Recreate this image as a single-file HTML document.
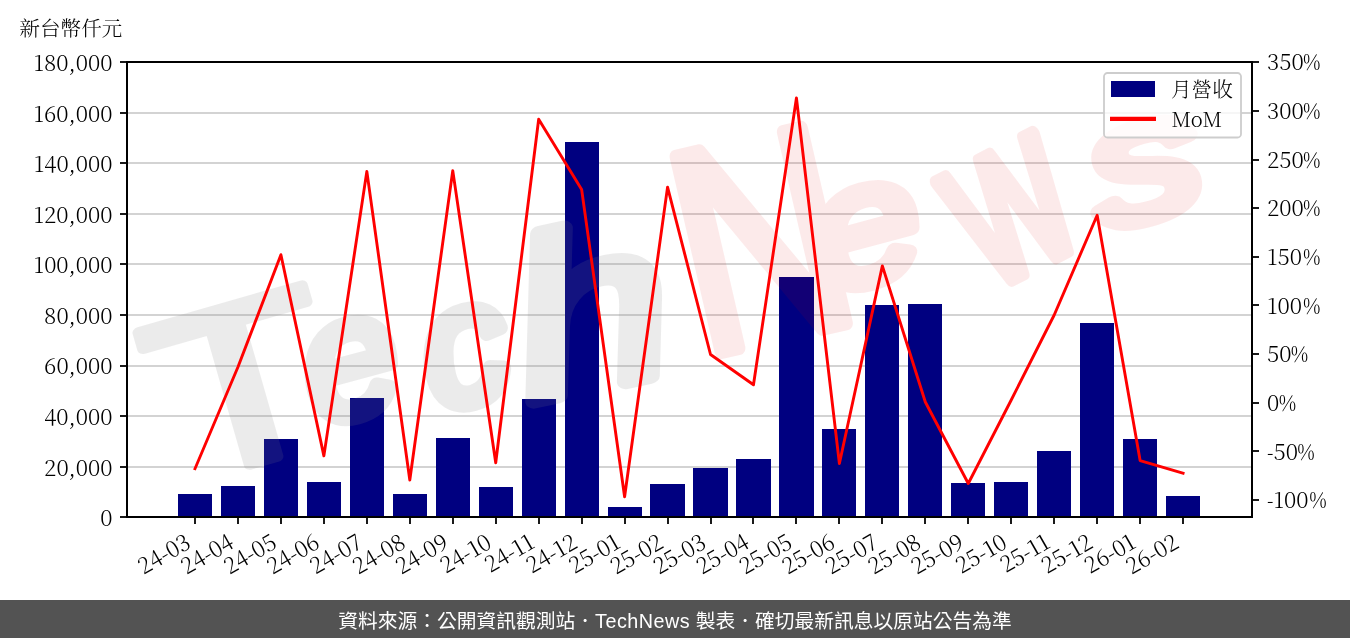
<!DOCTYPE html><html lang="zh-Hant"><head><meta charset="utf-8"><title>月營收 MoM</title>
<style>html,body{margin:0;padding:0;background:#fff}body{width:1350px;height:638px;overflow:hidden;position:relative}svg{position:absolute;left:0;top:0;display:block}.t{font-family:"Noto Serif CJK TC", "Noto Serif CJK SC", "Liberation Serif", serif;font-size:22.3px;fill:#000;font-weight:300}.c{font-size:20.8px}#footer{position:absolute;left:0;top:600px;width:1350px;height:38px;background:#535353;color:#fff;text-align:center;font-family:"Liberation Sans","Noto Sans CJK TC",sans-serif;font-size:19.75px;line-height:43px;white-space:nowrap}</style></head><body>
<svg width="1350" height="600" viewBox="0 0 1350 600">
<defs><clipPath id="ax"><rect x="127.0" y="62.0" width="1125.0" height="455.0"/></clipPath></defs>
<line x1="127.0" x2="1252.0" y1="467" y2="467" stroke="#d3d3d3" stroke-width="2"/>
<line x1="127.0" x2="1252.0" y1="416" y2="416" stroke="#d3d3d3" stroke-width="2"/>
<line x1="127.0" x2="1252.0" y1="366" y2="366" stroke="#d3d3d3" stroke-width="2"/>
<line x1="127.0" x2="1252.0" y1="315" y2="315" stroke="#d3d3d3" stroke-width="2"/>
<line x1="127.0" x2="1252.0" y1="264" y2="264" stroke="#d3d3d3" stroke-width="2"/>
<line x1="127.0" x2="1252.0" y1="214" y2="214" stroke="#d3d3d3" stroke-width="2"/>
<line x1="127.0" x2="1252.0" y1="163" y2="163" stroke="#d3d3d3" stroke-width="2"/>
<line x1="127.0" x2="1252.0" y1="113" y2="113" stroke="#d3d3d3" stroke-width="2"/>
<rect x="178" y="494" width="34" height="23" fill="#000080"/>
<rect x="221" y="486" width="34" height="31" fill="#000080"/>
<rect x="264" y="439" width="34" height="78" fill="#000080"/>
<rect x="307" y="482" width="34" height="35" fill="#000080"/>
<rect x="350" y="398" width="34" height="119" fill="#000080"/>
<rect x="393" y="494" width="34" height="23" fill="#000080"/>
<rect x="436" y="438" width="34" height="79" fill="#000080"/>
<rect x="479" y="487" width="34" height="30" fill="#000080"/>
<rect x="522" y="399" width="34" height="118" fill="#000080"/>
<rect x="565" y="142" width="34" height="375" fill="#000080"/>
<rect x="608" y="507" width="34" height="10" fill="#000080"/>
<rect x="650" y="484" width="35" height="33" fill="#000080"/>
<rect x="693" y="468" width="35" height="49" fill="#000080"/>
<rect x="736" y="459" width="35" height="58" fill="#000080"/>
<rect x="779" y="277" width="35" height="240" fill="#000080"/>
<rect x="822" y="429" width="34" height="88" fill="#000080"/>
<rect x="865" y="305" width="34" height="212" fill="#000080"/>
<rect x="908" y="304" width="34" height="213" fill="#000080"/>
<rect x="951" y="483" width="34" height="34" fill="#000080"/>
<rect x="994" y="482" width="34" height="35" fill="#000080"/>
<rect x="1037" y="451" width="34" height="66" fill="#000080"/>
<rect x="1080" y="323" width="34" height="194" fill="#000080"/>
<rect x="1123" y="439" width="34" height="78" fill="#000080"/>
<rect x="1166" y="496" width="34" height="21" fill="#000080"/>
<g clip-path="url(#ax)"><g opacity="0.15" fill="#808080" stroke="#808080" font-family="'Liberation Sans',sans-serif" font-weight="400" stroke-linejoin="round" stroke-linecap="round">
<text transform="translate(176,486) rotate(-16) scale(1.3,1)" font-size="230" font-style="normal" stroke-width="10">T</text>
<text transform="translate(318,426) rotate(-15) scale(1.0,1)" font-size="170" font-style="italic" stroke-width="15">e</text>
<text transform="translate(437,412) rotate(-15) scale(1.0,1)" font-size="170" font-style="italic" stroke-width="15">c</text>
<text transform="translate(530,402) rotate(-12) scale(1.25,1)" font-size="225" font-style="italic" stroke-width="15">h</text>
</g></g>
<g clip-path="url(#ax)"><g opacity="0.08" fill="#e00000" stroke="#e00000" font-family="'Liberation Sans',sans-serif" font-weight="400" stroke-linejoin="round" stroke-linecap="round">
<text transform="translate(702,356) rotate(-13) scale(0.8,1)" font-size="290" font-style="normal" stroke-width="15">N</text>
<text transform="translate(826,294) rotate(-15) scale(1.15,1)" font-size="170" font-style="italic" stroke-width="15">e</text>
<text transform="translate(990,290) rotate(-27) scale(0.675,1)" font-size="227" font-style="normal" stroke-width="15">w</text>
<text transform="translate(1104,230) rotate(-15) scale(1.3,1)" font-size="170" font-style="italic" stroke-width="15">s</text>
</g></g>
<polyline points="195.00,468.70 237.96,367.00 280.92,254.70 323.88,455.90 366.84,171.40 409.80,480.00 452.76,170.60 495.72,462.70 538.68,119.20 581.64,189.50 624.60,496.70 667.56,187.10 710.52,354.50 753.48,384.80 796.44,98.00 839.40,463.50 882.36,265.90 925.32,402.00 968.28,483.50 1011.24,400.00 1054.20,315.00 1097.16,215.30 1140.12,460.60 1183.08,473.30" fill="none" stroke="#ff0000" stroke-width="2.9" stroke-linejoin="round" stroke-linecap="square"/>
<rect x="127.0" y="62.0" width="1125.0" height="455.0" fill="none" stroke="#000" stroke-width="2"/>
<line x1="120.0" x2="127.0" y1="517" y2="517" stroke="#000" stroke-width="1.8"/>
<text class="t" x="112.6" y="526.10" text-anchor="end">0</text>
<line x1="120.0" x2="127.0" y1="467" y2="467" stroke="#000" stroke-width="1.8"/>
<text class="t" x="112.6" y="475.54" text-anchor="end">20,000</text>
<line x1="120.0" x2="127.0" y1="416" y2="416" stroke="#000" stroke-width="1.8"/>
<text class="t" x="112.6" y="424.99" text-anchor="end">40,000</text>
<line x1="120.0" x2="127.0" y1="366" y2="366" stroke="#000" stroke-width="1.8"/>
<text class="t" x="112.6" y="374.43" text-anchor="end">60,000</text>
<line x1="120.0" x2="127.0" y1="315" y2="315" stroke="#000" stroke-width="1.8"/>
<text class="t" x="112.6" y="323.88" text-anchor="end">80,000</text>
<line x1="120.0" x2="127.0" y1="264" y2="264" stroke="#000" stroke-width="1.8"/>
<text class="t" x="112.6" y="273.32" text-anchor="end">100,000</text>
<line x1="120.0" x2="127.0" y1="214" y2="214" stroke="#000" stroke-width="1.8"/>
<text class="t" x="112.6" y="222.77" text-anchor="end">120,000</text>
<line x1="120.0" x2="127.0" y1="163" y2="163" stroke="#000" stroke-width="1.8"/>
<text class="t" x="112.6" y="172.21" text-anchor="end">140,000</text>
<line x1="120.0" x2="127.0" y1="113" y2="113" stroke="#000" stroke-width="1.8"/>
<text class="t" x="112.6" y="121.66" text-anchor="end">160,000</text>
<line x1="120.0" x2="127.0" y1="62" y2="62" stroke="#000" stroke-width="1.8"/>
<text class="t" x="112.6" y="71.10" text-anchor="end">180,000</text>
<line x1="1252.0" x2="1259.0" y1="500" y2="500" stroke="#000" stroke-width="1.8"/>
<text class="t" transform="translate(1267.00,508.31) scale(0.85,1)">-</text>
<text class="t" x="1273.44" y="508.31">100</text>
<text class="t" transform="translate(1309.32,508.31) scale(0.86,1)">%</text>
<line x1="1252.0" x2="1259.0" y1="451" y2="451" stroke="#000" stroke-width="1.8"/>
<text class="t" transform="translate(1267.00,459.66) scale(0.85,1)">-</text>
<text class="t" x="1273.44" y="459.66">50</text>
<text class="t" transform="translate(1297.26,459.66) scale(0.86,1)">%</text>
<line x1="1252.0" x2="1259.0" y1="403" y2="403" stroke="#000" stroke-width="1.8"/>
<text class="t" x="1267.00" y="411.00">0</text>
<text class="t" transform="translate(1278.76,411.00) scale(0.86,1)">%</text>
<line x1="1252.0" x2="1259.0" y1="354" y2="354" stroke="#000" stroke-width="1.8"/>
<text class="t" x="1267.00" y="362.34">50</text>
<text class="t" transform="translate(1290.82,362.34) scale(0.86,1)">%</text>
<line x1="1252.0" x2="1259.0" y1="305" y2="305" stroke="#000" stroke-width="1.8"/>
<text class="t" x="1267.00" y="313.69">100</text>
<text class="t" transform="translate(1302.88,313.69) scale(0.86,1)">%</text>
<line x1="1252.0" x2="1259.0" y1="257" y2="257" stroke="#000" stroke-width="1.8"/>
<text class="t" x="1267.00" y="265.03">150</text>
<text class="t" transform="translate(1302.88,265.03) scale(0.86,1)">%</text>
<line x1="1252.0" x2="1259.0" y1="208" y2="208" stroke="#000" stroke-width="1.8"/>
<text class="t" x="1267.00" y="216.38">200</text>
<text class="t" transform="translate(1302.88,216.38) scale(0.86,1)">%</text>
<line x1="1252.0" x2="1259.0" y1="160" y2="160" stroke="#000" stroke-width="1.8"/>
<text class="t" x="1267.00" y="167.72">250</text>
<text class="t" transform="translate(1302.88,167.72) scale(0.86,1)">%</text>
<line x1="1252.0" x2="1259.0" y1="111" y2="111" stroke="#000" stroke-width="1.8"/>
<text class="t" x="1267.00" y="119.07">300</text>
<text class="t" transform="translate(1302.88,119.07) scale(0.86,1)">%</text>
<line x1="1252.0" x2="1259.0" y1="62" y2="62" stroke="#000" stroke-width="1.8"/>
<text class="t" x="1267.00" y="70.41">350</text>
<text class="t" transform="translate(1302.88,70.41) scale(0.86,1)">%</text>
<line x1="195" x2="195" y1="517.0" y2="524.0" stroke="#000" stroke-width="1.8"/>
<text class="t" style="font-size:22.2px" transform="translate(192.30,546.80) rotate(-30)" text-anchor="end">24-03</text>
<line x1="238" x2="238" y1="517.0" y2="524.0" stroke="#000" stroke-width="1.8"/>
<text class="t" style="font-size:22.2px" transform="translate(235.26,546.80) rotate(-30)" text-anchor="end">24-04</text>
<line x1="281" x2="281" y1="517.0" y2="524.0" stroke="#000" stroke-width="1.8"/>
<text class="t" style="font-size:22.2px" transform="translate(278.22,546.80) rotate(-30)" text-anchor="end">24-05</text>
<line x1="324" x2="324" y1="517.0" y2="524.0" stroke="#000" stroke-width="1.8"/>
<text class="t" style="font-size:22.2px" transform="translate(321.18,546.80) rotate(-30)" text-anchor="end">24-06</text>
<line x1="367" x2="367" y1="517.0" y2="524.0" stroke="#000" stroke-width="1.8"/>
<text class="t" style="font-size:22.2px" transform="translate(364.14,546.80) rotate(-30)" text-anchor="end">24-07</text>
<line x1="410" x2="410" y1="517.0" y2="524.0" stroke="#000" stroke-width="1.8"/>
<text class="t" style="font-size:22.2px" transform="translate(407.10,546.80) rotate(-30)" text-anchor="end">24-08</text>
<line x1="453" x2="453" y1="517.0" y2="524.0" stroke="#000" stroke-width="1.8"/>
<text class="t" style="font-size:22.2px" transform="translate(450.06,546.80) rotate(-30)" text-anchor="end">24-09</text>
<line x1="496" x2="496" y1="517.0" y2="524.0" stroke="#000" stroke-width="1.8"/>
<text class="t" style="font-size:22.2px" transform="translate(493.02,546.80) rotate(-30)" text-anchor="end">24-10</text>
<line x1="539" x2="539" y1="517.0" y2="524.0" stroke="#000" stroke-width="1.8"/>
<text class="t" style="font-size:22.2px" transform="translate(535.98,546.80) rotate(-30)" text-anchor="end">24-11</text>
<line x1="582" x2="582" y1="517.0" y2="524.0" stroke="#000" stroke-width="1.8"/>
<text class="t" style="font-size:22.2px" transform="translate(578.94,546.80) rotate(-30)" text-anchor="end">24-12</text>
<line x1="625" x2="625" y1="517.0" y2="524.0" stroke="#000" stroke-width="1.8"/>
<text class="t" style="font-size:22.2px" transform="translate(621.90,546.80) rotate(-30)" text-anchor="end">25-01</text>
<line x1="668" x2="668" y1="517.0" y2="524.0" stroke="#000" stroke-width="1.8"/>
<text class="t" style="font-size:22.2px" transform="translate(664.86,546.80) rotate(-30)" text-anchor="end">25-02</text>
<line x1="711" x2="711" y1="517.0" y2="524.0" stroke="#000" stroke-width="1.8"/>
<text class="t" style="font-size:22.2px" transform="translate(707.82,546.80) rotate(-30)" text-anchor="end">25-03</text>
<line x1="753" x2="753" y1="517.0" y2="524.0" stroke="#000" stroke-width="1.8"/>
<text class="t" style="font-size:22.2px" transform="translate(750.78,546.80) rotate(-30)" text-anchor="end">25-04</text>
<line x1="796" x2="796" y1="517.0" y2="524.0" stroke="#000" stroke-width="1.8"/>
<text class="t" style="font-size:22.2px" transform="translate(793.74,546.80) rotate(-30)" text-anchor="end">25-05</text>
<line x1="839" x2="839" y1="517.0" y2="524.0" stroke="#000" stroke-width="1.8"/>
<text class="t" style="font-size:22.2px" transform="translate(836.70,546.80) rotate(-30)" text-anchor="end">25-06</text>
<line x1="882" x2="882" y1="517.0" y2="524.0" stroke="#000" stroke-width="1.8"/>
<text class="t" style="font-size:22.2px" transform="translate(879.66,546.80) rotate(-30)" text-anchor="end">25-07</text>
<line x1="925" x2="925" y1="517.0" y2="524.0" stroke="#000" stroke-width="1.8"/>
<text class="t" style="font-size:22.2px" transform="translate(922.62,546.80) rotate(-30)" text-anchor="end">25-08</text>
<line x1="968" x2="968" y1="517.0" y2="524.0" stroke="#000" stroke-width="1.8"/>
<text class="t" style="font-size:22.2px" transform="translate(965.58,546.80) rotate(-30)" text-anchor="end">25-09</text>
<line x1="1011" x2="1011" y1="517.0" y2="524.0" stroke="#000" stroke-width="1.8"/>
<text class="t" style="font-size:22.2px" transform="translate(1008.54,546.80) rotate(-30)" text-anchor="end">25-10</text>
<line x1="1054" x2="1054" y1="517.0" y2="524.0" stroke="#000" stroke-width="1.8"/>
<text class="t" style="font-size:22.2px" transform="translate(1051.50,546.80) rotate(-30)" text-anchor="end">25-11</text>
<line x1="1097" x2="1097" y1="517.0" y2="524.0" stroke="#000" stroke-width="1.8"/>
<text class="t" style="font-size:22.2px" transform="translate(1094.46,546.80) rotate(-30)" text-anchor="end">25-12</text>
<line x1="1140" x2="1140" y1="517.0" y2="524.0" stroke="#000" stroke-width="1.8"/>
<text class="t" style="font-size:22.2px" transform="translate(1137.42,546.80) rotate(-30)" text-anchor="end">26-01</text>
<line x1="1183" x2="1183" y1="517.0" y2="524.0" stroke="#000" stroke-width="1.8"/>
<text class="t" style="font-size:22.2px" transform="translate(1180.38,546.80) rotate(-30)" text-anchor="end">26-02</text>
<text class="t" style="font-size:20.55px" x="19.5" y="35.5">新台幣仟元</text>
<rect x="1104" y="73" width="137" height="64.5" rx="3.5" fill="#fff" fill-opacity="0.8" stroke="#cdcdcd" stroke-width="1.8"/>
<rect x="1111" y="81" width="44" height="16" fill="#000080"/>
<line x1="1110" x2="1156" y1="118.9" y2="118.9" stroke="#ff0000" stroke-width="4.1"/>
<text class="t" style="font-size:20.6px" x="1171" y="97">月營收</text>
<text class="t" style="font-size:20.3px" x="1171.5" y="126.8">MoM</text>
</svg>
<div id="footer">資料來源：公開資訊觀測站．<span style="letter-spacing:0.5px">TechNews</span> 製表．確切最新訊息以原站公告為準</div>
</body></html>
